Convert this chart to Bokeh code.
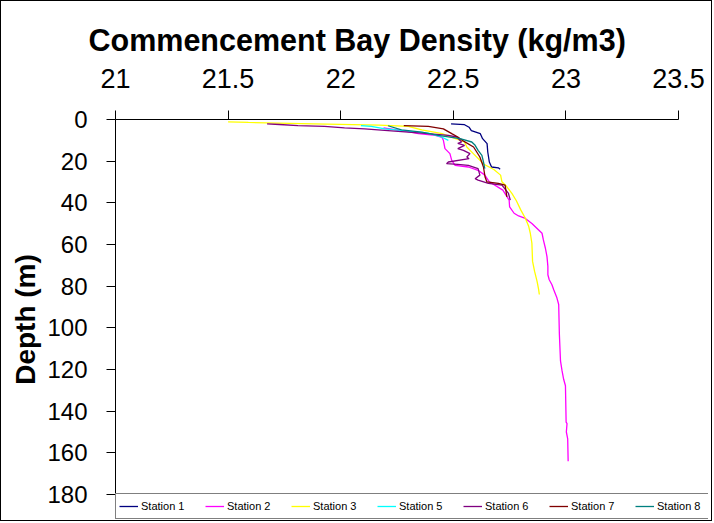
from bokeh.plotting import figure
from bokeh.models import Range1d, FixedTicker, Legend, LegendItem
from bokeh.embed import file_html
from bokeh.resources import INLINE

FONT = "Liberation Sans"

title_text = "Commencement Bay Density (kg/m3)"
y_title = "Depth (m)"

x_ticks = [21, 21.5, 22, 22.5, 23, 23.5]
x_tick_labels = ["21", "21.5", "22", "22.5", "23", "23.5"]
y_ticks = [0, 20, 40, 60, 80, 100, 120, 140, 160, 180]

station_names = ["Station 1", "Station 2", "Station 3", "Station 5",
                 "Station 6", "Station 7", "Station 8"]
station_colors = ["#000080", "#FF00FF", "#FFFF00", "#00FFFF",
                  "#800080", "#800000", "#008080"]

st1_density = [22.49, 22.55, 22.57, 22.58, 22.62, 22.63, 22.65, 22.653, 22.66,
               22.67, 22.70, 22.708]
st1_depth = [2.1, 2.5, 3.7, 5.3, 6.8, 9.2, 11.6, 15.6, 20.4, 22.8, 23.2, 23.9]

st2_density = [22.19, 22.30, 22.345, 22.42, 22.45, 22.456, 22.463, 22.485, 22.493,
               22.508, 22.567, 22.61, 22.64, 22.66, 22.72, 22.748, 22.75, 22.77,
               22.79, 22.82, 22.849, 22.879, 22.894, 22.90, 22.909, 22.916, 22.92,
               22.92, 22.926, 22.938, 22.946, 22.96, 22.968, 22.971, 22.976, 22.983,
               22.99, 22.998, 23.001, 23.005, 23.002, 23.008, 23.01]
st2_depth = [4.0, 5.8, 6.8, 7.6, 8.6, 10.0, 14.0, 16.4, 19.6,
             22.0, 22.8, 24.4, 26.7, 29.9, 33.9, 38.7, 41.9, 45.0,
             46.3, 47.5, 49.9, 53.0, 54.6, 57.8, 61.8, 65.8, 70.5,
             74.5, 76.9, 79.3, 81.7, 85.6, 88.8, 103.0, 115.9, 120.7,
             124.7, 127.8, 145.3, 146.0, 150.0, 153.3, 164.0]

st3_density = [21.50, 21.59, 21.88, 22.17, 22.30, 22.36, 22.45, 22.51, 22.55, 22.56,
               22.59, 22.636, 22.68, 22.71, 22.716, 22.738, 22.76, 22.78, 22.80,
               22.82, 22.835, 22.842, 22.849, 22.852, 22.861, 22.872, 22.879, 22.882]
st3_depth = [1.1, 1.4, 2.1, 2.7, 3.3, 5.0, 6.8, 9.2, 10.8, 13.2,
             16.5, 21.5, 24.0, 26.7, 29.9, 32.3, 35.5, 39.0, 43.5,
             47.4, 51.4, 54.6, 59.4, 68.1, 72.9, 77.7, 81.7, 84.0]

st5_density = [22.09, 22.136, 22.196, 22.30, 22.389, 22.448, 22.478]
st5_depth = [2.9, 3.3, 4.5, 5.6, 6.5, 8.4, 10.0]

st6_density = [21.673, 21.728, 21.81, 21.928, 22.017, 22.106, 22.21, 22.36, 22.478,
               22.515, 22.537, 22.52, 22.55, 22.52, 22.545, 22.574, 22.56, 22.57,
               22.478, 22.47, 22.52, 22.567, 22.61, 22.618, 22.597, 22.61, 22.656,
               22.716, 22.745, 22.753]
st6_depth = [2.1, 2.4, 2.9, 3.3, 4.0, 4.5, 5.3, 6.5, 7.6,
             8.4, 10.8, 11.5, 12.4, 14.0, 14.8, 16.4, 18.0, 18.8,
             20.4, 21.2, 21.5, 22.0, 23.6, 26.7, 28.4, 29.1, 30.7,
             31.5, 35.5, 38.7]

st7_density = [22.28, 22.389, 22.456, 22.493, 22.52, 22.54, 22.59, 22.618, 22.634,
               22.641, 22.649, 22.70, 22.73, 22.738]
st7_depth = [2.9, 3.3, 4.5, 6.8, 8.4, 10.0, 13.2, 18.0, 22.8,
             27.6, 29.9, 30.7, 31.5, 37.1]

st8_density = [22.21, 22.27, 22.36, 22.433, 22.53, 22.582, 22.597, 22.61, 22.627,
               22.634, 22.64]
st8_depth = [3.0, 5.0, 6.1, 7.6, 9.2, 10.8, 12.4, 14.8, 17.2, 20.4, 23.6]

series = [
    (st1_density, st1_depth),
    (st2_density, st2_depth),
    (st3_density, st3_depth),
    (st5_density, st5_depth),
    (st6_density, st6_depth),
    (st7_density, st7_depth),
    (st8_density, st8_depth),
]

# The plotting area is enlarged (right and bottom) so the legend box fits
# inside it; the axes themselves are limited to the data scale with bounds.
AXIS_W, AXIS_H = 563, 375
FRAME_W, FRAME_H = 593, 400
X_START, X_STOP = x_ticks[0], x_ticks[-1]
Y_STOP = y_ticks[-1]
X_END = X_START + (X_STOP - X_START) * FRAME_W / AXIS_W
Y_END = Y_STOP * FRAME_H / AXIS_H

p = figure(frame_width=FRAME_W, frame_height=FRAME_H,
           x_range=Range1d(X_START, X_END), y_range=Range1d(Y_END, 0),
           x_axis_location="above", output_backend="svg", toolbar_location=None,
           min_border_left=114, min_border_right=3, min_border_top=118,
           min_border_bottom=1, title=title_text)

p.styles = {"border": "1px solid black"}

p.background_fill_color = "white"
p.border_fill_color = "white"
p.outline_line_color = None
p.xgrid.visible = False
p.ygrid.visible = False

p.title.text_font = FONT
p.title.text_font_size = "30.5px"
p.title.text_font_style = "bold"
p.title.text_color = "black"
p.title.align = "left"
p.title.offset = -27
p.title.standoff = 18

xa = p.xaxis[0]
xa.bounds = (X_START, X_STOP)
xa.ticker = FixedTicker(ticks=x_ticks)
xa.major_label_overrides = {t: l for t, l in zip(x_ticks, x_tick_labels)}
xa.major_label_text_font = FONT
xa.major_label_text_font_size = "27px"
xa.major_label_text_color = "black"
xa.major_label_standoff = 23
xa.major_tick_out = 9
xa.major_tick_in = 0
xa.minor_tick_out = 0
xa.minor_tick_in = 0
xa.axis_line_color = "black"
xa.major_tick_line_color = "black"

ya = p.yaxis[0]
ya.bounds = (0, Y_STOP)
ya.ticker = FixedTicker(ticks=y_ticks)
ya.major_label_text_font = FONT
ya.major_label_text_font_size = "24px"
ya.major_label_text_color = "black"
ya.major_label_standoff = 19
ya.major_tick_out = 9
ya.major_tick_in = 0
ya.minor_tick_out = 0
ya.minor_tick_in = 0
ya.axis_line_color = "black"
ya.major_tick_line_color = "black"
ya.axis_label = y_title
ya.axis_label_text_font = FONT
ya.axis_label_text_font_size = "28px"
ya.axis_label_text_font_style = "bold"
ya.axis_label_text_color = "black"
ya.axis_label_standoff = 3

items = []
for (dens, dep), name, color in zip(series, station_names, station_colors):
    r = p.line(dens, dep, line_color=color, line_width=1.3)
    items.append(LegendItem(label=name, renderers=[r]))

legend = Legend(items=items, orientation="horizontal", location=(0, 0),
                label_text_font=FONT, label_text_font_size="11px",
                label_text_color="black", glyph_width=19, glyph_height=18,
                label_height=18, label_width=49, label_standoff=3, spacing=15,
                padding=3, margin=0, border_line_color="black",
                border_line_width=1, background_fill_color="white",
                background_fill_alpha=1.0)
p.add_layout(legend)

open("out.html", "w").write(file_html(p, INLINE))
